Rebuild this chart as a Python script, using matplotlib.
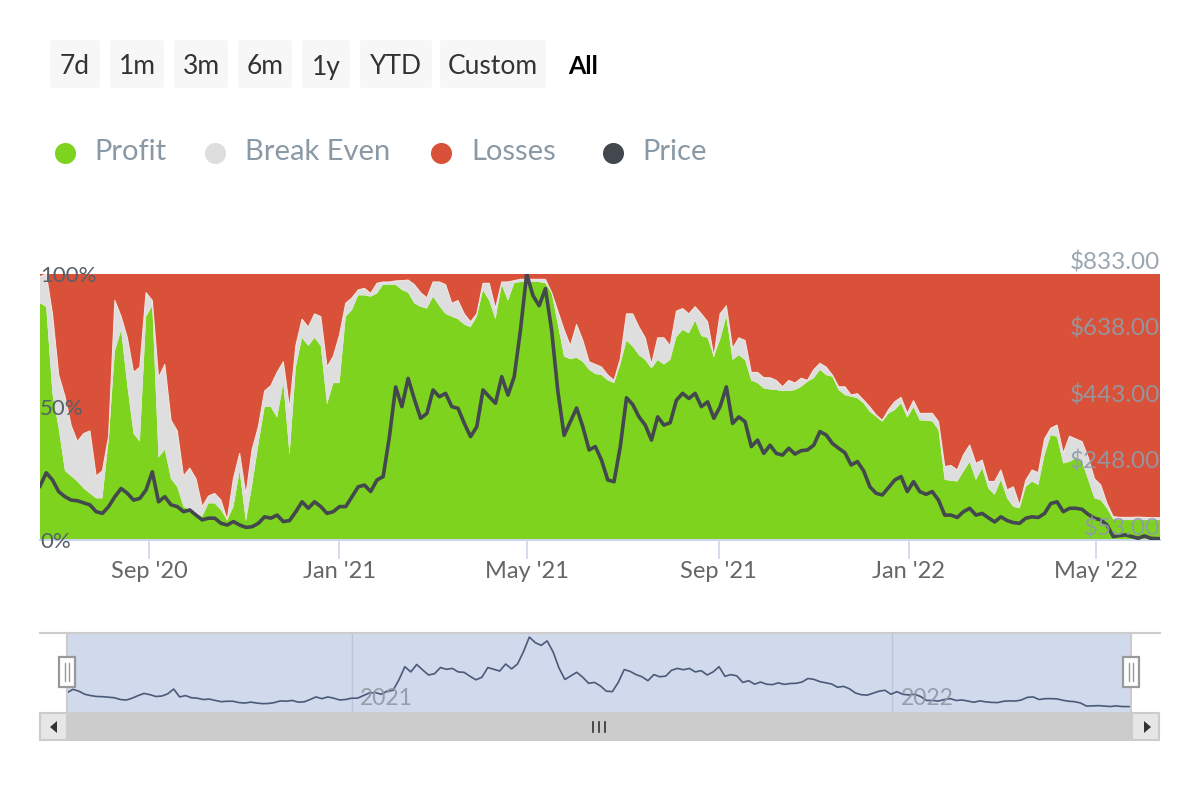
import numpy as np
import pandas as pd
import matplotlib
matplotlib.use('Agg')
import matplotlib.pyplot as plt
import matplotlib.dates as mdates
from matplotlib.patches import FancyBboxPatch, Rectangle, Polygon

plt.rcParams['font.family'] = ['Lato', 'DejaVu Sans']

# Readings from the chart, one value every 4 days from 23 Jun 2020
# Percent of addresses in profit
profit = [
    89, 87.7, 55, 42, 26, 24, 22, 19.4, 17.5, 15.7, 15.7, 37.6, 71, 79, 58, 40, 37, 84, 88, 31,
    34, 23, 20, 12.5, 11.3, 9.4, 8.8, 13.8, 13.8, 11.3, 7.5, 12.5, 26, 7, 20.7, 36, 50, 50, 46, 59,
    32, 65, 76, 73, 76, 73, 51, 59, 59, 84, 86.5, 92, 92, 91.5, 92.7, 96, 96, 96, 94, 93,
    89, 87.7, 87, 91.5, 88, 85, 84, 83, 81, 80, 84, 94, 90, 83, 96, 90, 96.5, 97, 97, 97,
    97, 96.5, 93, 81, 69, 68, 68.5, 67, 64, 62.4, 62, 60, 59, 66, 75, 72.7, 69.5, 67.7, 64.5, 67.7,
    66, 67.7, 76.4, 79, 77.7, 82.5, 76.7, 76, 69, 75.4, 84, 67.7, 69.5, 67.7, 60, 59, 57, 56.6, 56.4,
    56, 56, 56.4, 57.6, 59.5, 60.8, 64, 62, 61.4, 56.4, 54.5, 53.9, 53.3, 51.4, 48.2, 46.4, 44.5, 47.6, 48.9, 51.4,
    46, 50, 45, 44.9, 44.6, 41.4, 22.6, 22.3, 22, 25.7, 29.4, 22.6, 27, 19.4, 17, 22.6, 15.7, 12.5, 11.9, 20,
    22, 20.7, 32, 39.5, 38.8, 28.8, 29.4, 30.7, 29.4, 22.6, 15.7, 15, 11.9, 7.8, 7.5, 7.5, 7.5, 7.5, 7.5, 7.5, 7.5, 7.5,
]
# Percent in profit or at break even (what is left is losses)
profit_or_even = [
    99, 100, 85, 62, 54, 43, 37, 40, 41, 24, 26, 39, 90, 84, 76, 63, 65, 93, 90, 61,
    66, 45, 41, 24, 27, 23, 12.5, 16.5, 17.5, 15, 7.5, 23, 32.5, 17, 34, 42.6, 56, 58, 63, 67,
    49.5, 73, 83, 80, 85, 84, 65, 69, 77, 89, 91, 94, 94.6, 92.7, 96.5, 97, 97, 97.4, 97.5, 97.7,
    96, 93, 91, 97, 97, 96, 89, 90, 85, 82, 85, 96.5, 96.5, 87, 97, 97, 97.5, 98, 98, 98,
    98, 98, 93, 86, 79, 73, 81, 75, 67, 66, 65, 62, 60, 68, 85, 85, 80, 76, 66, 76,
    76, 73, 86, 87, 85, 87.7, 85, 82, 69, 85, 88, 72, 76, 75, 63, 63, 61, 61, 60,
    57.6, 60, 59, 60.8, 60, 64, 66.4, 65, 62, 57.6, 57.6, 54.5, 55, 52.6, 50, 47, 45, 49, 52, 53.6,
    47.6, 52.4, 47.6, 47.6, 47.6, 44.5, 27.6, 28, 26.3, 32, 35.7, 28.8, 30, 22, 22, 26.3, 18.8, 20, 13, 22.5,
    26.3, 25.3, 38, 42, 43.2, 32.6, 39, 38, 37, 31, 23, 20.7, 13.8, 8.8, 8.5, 8.5, 8.5, 8.6, 8.5, 8.4, 8.4, 8.4,
]
# Price in dollars
price = [
    211, 250, 229, 195, 180, 170, 168, 162, 156, 136, 131, 151, 180, 204, 190, 170, 175, 200, 253, 165,
    180, 156, 151, 136, 141, 126, 112, 117, 117, 102, 97, 107, 97, 90, 92, 102, 121, 117, 126, 107,
    110, 136, 165, 146, 165, 151, 131, 136, 151, 151, 180, 209, 214, 195, 229, 239, 356, 502, 444, 527,
    466, 410, 424, 493, 473, 483, 444, 439, 395, 356, 385, 493, 473, 454, 532, 478, 532, 668, 833, 770,
    740, 790, 668, 488, 360, 400, 440, 385, 317, 327, 287, 229, 224, 327, 470, 450, 414, 390, 346, 414,
    390, 397, 463, 483, 468, 483, 444, 458, 410, 444, 502, 395, 414, 400, 327, 346, 307, 331, 307,
    302, 322, 305, 315, 317, 331, 371, 361, 336, 322, 309, 273, 283, 256, 209, 190, 185, 207, 229, 239,
    195, 224, 195, 187, 195, 170, 126, 126, 119, 136, 146, 126, 131, 118, 106, 121, 110, 104, 102, 117,
    121, 119, 131, 160, 165, 136, 146, 146, 143, 128, 117, 112, 97, 63, 66, 68, 63, 58, 65, 58, 57, 57,
]

pct_ticks = [0, 50, 100]
pct_labels = ['0%', '50%', '100%']
price_ticks = [53, 248, 443, 638, 833]
price_labels = ['$53.00', '$248.00', '$443.00', '$638.00', '$833.00']
month_ticks = ['2020-09-01', '2021-01-01', '2021-05-01', '2021-09-01', '2022-01-01', '2022-05-01']
month_labels = ["Sep '20", "Jan '21", "May '21", "Sep '21", "Jan '22", "May '22"]
year_ticks = ['2021-01-01', '2022-01-01']
year_labels = ['2021', '2022']
range_buttons = ['7d', '1m', '3m', '6m', '1y', 'YTD', 'Custom']
legend_names = ['Profit', 'Break Even', 'Losses', 'Price']

GREEN = '#7dd31e'
GREY = '#dedede'
RED = '#d95138'
DARK = '#43484e'

dates = pd.date_range('2020-06-23', periods=len(price), freq='4D')
xmin, xmax = pd.Timestamp('2020-06-23'), pd.Timestamp('2022-06-11')
profit = np.array(profit)
top = np.maximum(np.array(profit_or_even), profit)

fig = plt.figure(figsize=(12, 8), dpi=100)


def px_axes(left, top_px, right, bottom):
    return fig.add_axes([left / 1200, (800 - bottom) / 800, (right - left) / 1200, (bottom - top_px) / 800])


# main chart
ax = px_axes(40, 274, 1160, 540)
ax.stackplot(dates, profit, top - profit, 100 - top, colors=[GREEN, GREY, RED], linewidth=0)
ax.plot(dates, top, color='#f1e6e2', lw=0.8)
ax.set_xlim(xmin, xmax)
ax.set_ylim(0, 100)
for s in ['top', 'left', 'right']:
    ax.spines[s].set_visible(False)
ax.spines['bottom'].set_color('#ccd6eb')
ax.spines['bottom'].set_linewidth(1.5)
ax.set_yticks([])
ax.set_xticks(pd.to_datetime(month_ticks))
ax.set_xticklabels(month_labels, fontsize=17, color='#666666')
ax.tick_params(axis='x', length=14, width=1.2, color='#ccd6eb', pad=1)
for v, lab in zip(pct_ticks, pct_labels):
    ax.annotate(lab, (0, v), xycoords=ax.get_yaxis_transform(), xytext=(0, -1.5), textcoords='offset points',
                ha='left', va='center', fontsize=16, color='#56606a', annotation_clip=False)

price_ax = ax.twinx()
price_ax.plot(dates, price, color=DARK, lw=2.6)
price_ax.set_ylim(53, 833)
price_ax.set_yticks([])
for s in price_ax.spines.values():
    s.set_visible(False)
for v, lab in zip(price_ticks, price_labels):
    price_ax.annotate(lab, (1, v), xycoords=price_ax.get_yaxis_transform(), xytext=(0, 8.5),
                      textcoords='offset points', ha='right', va='center', fontsize=17.5,
                      color='#8f9ca8', alpha=0.9, annotation_clip=False)

# navigator
nav = px_axes(67, 633, 1131, 712)
nav.set_facecolor('#d1d9ec')
nav.plot(dates, price, color='#4a5a78', lw=1.2)
nav.set_xlim(xmin, xmax)
nav.set_ylim(-3, 878)
nav.set_yticks([])
nav.set_xticks(pd.to_datetime(year_ticks))
nav.set_xticklabels([])
nav.tick_params(axis='x', length=0)
nav.grid(axis='x', color='#bcc6d8', lw=1)
for s in nav.spines.values():
    s.set_visible(False)
for d, lab in zip(year_ticks, year_labels):
    nav.annotate(lab, (mdates.date2num(pd.Timestamp(d)), 0), xycoords=nav.get_xaxis_transform(), xytext=(6, 10),
                 textcoords='offset points', ha='left', va='center', fontsize=16.5, color='#8f98a3', alpha=0.9)

# overlay for buttons, legend and scrollbar, in pixels
ov = fig.add_axes([0, 0, 1, 1], facecolor='none')
ov.set_xlim(0, 1200)
ov.set_ylim(800, 0)
ov.axis('off')

button_edges = [(50, 100), (110, 164), (174, 228), (238, 292), (302, 350), (360, 432), (440, 546)]
for (x0, x1), lab in zip(button_edges, range_buttons):
    ov.add_patch(FancyBboxPatch((x0 + 2, 42), x1 - x0 - 4, 44, boxstyle='round,pad=2,rounding_size=3',
                                fc='#f7f7f7', ec='none'))
    ov.text((x0 + x1) / 2, 67, lab, ha='center', va='center', fontsize=19, color='#333333')
ov.text(583, 67, 'All', ha='center', va='center', fontsize=18, color='black', fontweight='bold')

dot_x = [65, 215, 441, 613]
text_x = [94, 245, 471, 642]
for name, c, dx, tx in zip(legend_names, [GREEN, GREY, RED, DARK], dot_x, text_x):
    ov.scatter([dx], [152.5], s=230, color=c, linewidths=0)
    ov.text(tx, 152, name, ha='left', va='center', fontsize=21, color='#8a99a6')

# navigator frame and handles
ov.plot([40, 1160], [633, 633], color='#cccccc', lw=1.5)
ov.plot([67, 67], [633, 712], color='#cccccc', lw=1.5)
ov.plot([1131, 1131], [633, 712], color='#cccccc', lw=1.5)
for hx in [67, 1131]:
    ov.add_patch(Rectangle((hx - 8, 657), 16, 30, fc='white', ec='#999999', lw=1.6, zorder=3))
    ov.plot([hx - 2, hx - 2], [663, 681], color='#999999', lw=1, zorder=4)
    ov.plot([hx + 2, hx + 2], [663, 681], color='#999999', lw=1, zorder=4)

# scrollbar
ov.add_patch(Rectangle((39, 712), 1121, 29, fc='#cccccc', ec='none'))
ov.add_patch(Rectangle((40, 713), 27, 27, fc='#e6e6e6', ec='#cccccc', lw=1.5))
ov.add_patch(Rectangle((1132, 713), 27, 27, fc='#e6e6e6', ec='#cccccc', lw=1.5))
ov.add_patch(Polygon([[57, 721], [57, 733], [50, 727]], fc='#333333', ec='none'))
ov.add_patch(Polygon([[1144, 721], [1144, 733], [1151, 727]], fc='#333333', ec='none'))
for bx in [593, 599, 605]:
    ov.plot([bx, bx], [722, 732], color='#333333', lw=1.2)

fig.savefig('out.png', dpi=100)
